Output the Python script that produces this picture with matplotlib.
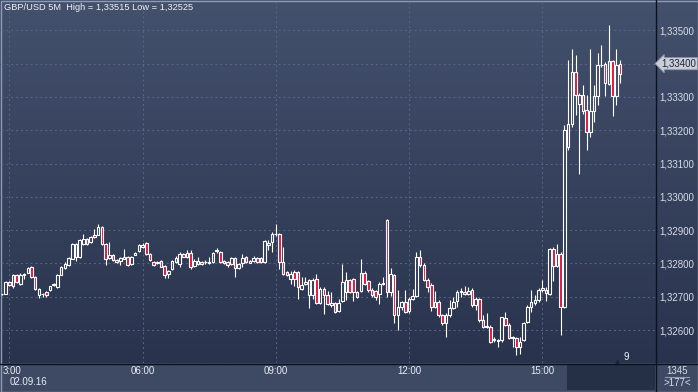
import numpy as np
import matplotlib.pyplot as plt
from matplotlib import transforms
from matplotlib.patches import Rectangle
from matplotlib.lines import Line2D

plt.rcParams["font.family"] = ["Liberation Sans", "DejaVu Sans"]

# 5-minute GBP/USD bars, first bar two steps before 03:00
first_bar = -2
opens = [
    1.32707, 1.32709, 1.32744, 1.32732, 1.32766, 1.32739, 1.32766, 1.32772, 1.32789, 1.32759,
    1.32706, 1.32707, 1.32714, 1.32719, 1.32735, 1.32729, 1.32766, 1.32786, 1.32796, 1.32814,
    1.32818, 1.32820, 1.32859, 1.32872, 1.32864, 1.32886, 1.32886, 1.32909, 1.32859, 1.32816,
    1.32826, 1.32809, 1.32806, 1.32814, 1.32819, 1.32799, 1.32826, 1.32836, 1.32849, 1.32862,
    1.32828, 1.32805, 1.32800, 1.32807, 1.32792, 1.32767, 1.32782, 1.32803, 1.32797, 1.32828,
    1.32818, 1.32830, 1.32792, 1.32798, 1.32805, 1.32803, 1.32800, 1.32803, 1.32838, 1.32835,
    1.32800, 1.32805, 1.32797, 1.32817, 1.32785, 1.32800, 1.32820, 1.32802, 1.32807, 1.32817,
    1.32803, 1.32803, 1.32855, 1.32865, 1.32887, 1.32888, 1.32803, 1.32773, 1.32753, 1.32773,
    1.32773, 1.32723, 1.32738, 1.32706, 1.32706, 1.32753, 1.32680, 1.32723, 1.32706, 1.32676,
    1.32680, 1.32658, 1.32686, 1.32713, 1.32750, 1.32753, 1.32715, 1.32716, 1.32770, 1.32746,
    1.32721, 1.32716, 1.32708, 1.32738, 1.32930, 1.32713, 1.32765, 1.32645, 1.32668, 1.32685,
    1.32658, 1.32693, 1.32703, 1.32820, 1.32795, 1.32751, 1.32736, 1.32670, 1.32685, 1.32645,
    1.32620, 1.32645, 1.32666, 1.32688, 1.32713, 1.32715, 1.32708, 1.32721, 1.32675, 1.32693,
    1.32630, 1.32610, 1.32610, 1.32570, 1.32570, 1.32570, 1.32636, 1.32615, 1.32580, 1.32575,
    1.32548, 1.32571, 1.32625, 1.32668, 1.32680, 1.32690, 1.32721, 1.32721, 1.32708, 1.32843,
    1.32793, 1.32828, 1.32670, 1.33150, 1.33220, 1.33375, 1.33280, 1.33305, 1.33260, 1.33195,
    1.33257, 1.33303, 1.33395, 1.33400, 1.33340, 1.33408, 1.33303, 1.33400,
]
highs = [
    1.32709, 1.32747, 1.32746, 1.32768, 1.32768, 1.32772, 1.32772, 1.32789, 1.32792, 1.32761,
    1.32727, 1.32710, 1.32716, 1.32733, 1.32740, 1.32768, 1.32791, 1.32803, 1.32820, 1.32861,
    1.32862, 1.32874, 1.32889, 1.32876, 1.32882, 1.32902, 1.32919, 1.32912, 1.32861, 1.32864,
    1.32829, 1.32812, 1.32819, 1.32844, 1.32822, 1.32822, 1.32834, 1.32859, 1.32862, 1.32865,
    1.32830, 1.32808, 1.32808, 1.32810, 1.32794, 1.32780, 1.32810, 1.32822, 1.32835, 1.32832,
    1.32840, 1.32840, 1.32812, 1.32820, 1.32808, 1.32810, 1.32820, 1.32833, 1.32845, 1.32838,
    1.32810, 1.32808, 1.32818, 1.32820, 1.32800, 1.32827, 1.32823, 1.32810, 1.32823, 1.32820,
    1.32818, 1.32870, 1.32870, 1.32895, 1.32918, 1.32890, 1.32850, 1.32776, 1.32778, 1.32780,
    1.32776, 1.32758, 1.32760, 1.32753, 1.32756, 1.32768, 1.32730, 1.32728, 1.32718, 1.32713,
    1.32683, 1.32693, 1.32798, 1.32775, 1.32753, 1.32755, 1.32718, 1.32813, 1.32776, 1.32750,
    1.32725, 1.32720, 1.32745, 1.32760, 1.32932, 1.32785, 1.32768, 1.32721, 1.32688, 1.32721,
    1.32700, 1.32723, 1.32835, 1.32840, 1.32800, 1.32755, 1.32740, 1.32718, 1.32690, 1.32648,
    1.32650, 1.32690, 1.32700, 1.32720, 1.32725, 1.32733, 1.32730, 1.32725, 1.32698, 1.32695,
    1.32645, 1.32651, 1.32615, 1.32580, 1.32573, 1.32640, 1.32653, 1.32620, 1.32583, 1.32578,
    1.32578, 1.32625, 1.32675, 1.32721, 1.32705, 1.32725, 1.32750, 1.32730, 1.32846, 1.32850,
    1.32858, 1.32835, 1.33215, 1.33410, 1.33445, 1.33425, 1.33312, 1.33335, 1.33305, 1.33445,
    1.33335, 1.33433, 1.33455, 1.33405, 1.33515, 1.33412, 1.33445, 1.33410,
]
lows = [
    1.32705, 1.32708, 1.32733, 1.32726, 1.32740, 1.32734, 1.32754, 1.32770, 1.32757, 1.32719,
    1.32696, 1.32700, 1.32700, 1.32716, 1.32733, 1.32727, 1.32764, 1.32784, 1.32793, 1.32812,
    1.32806, 1.32815, 1.32854, 1.32856, 1.32860, 1.32877, 1.32884, 1.32856, 1.32796, 1.32814,
    1.32806, 1.32800, 1.32796, 1.32812, 1.32792, 1.32796, 1.32824, 1.32834, 1.32846, 1.32826,
    1.32808, 1.32792, 1.32798, 1.32788, 1.32755, 1.32755, 1.32780, 1.32800, 1.32790, 1.32818,
    1.32815, 1.32782, 1.32790, 1.32795, 1.32795, 1.32798, 1.32798, 1.32800, 1.32832, 1.32800,
    1.32798, 1.32788, 1.32795, 1.32760, 1.32782, 1.32790, 1.32802, 1.32800, 1.32805, 1.32800,
    1.32800, 1.32800, 1.32840, 1.32833, 1.32882, 1.32783, 1.32765, 1.32763, 1.32738, 1.32733,
    1.32693, 1.32720, 1.32735, 1.32665, 1.32693, 1.32678, 1.32677, 1.32648, 1.32675, 1.32670,
    1.32650, 1.32655, 1.32683, 1.32690, 1.32710, 1.32688, 1.32695, 1.32713, 1.32735, 1.32715,
    1.32700, 1.32690, 1.32678, 1.32735, 1.32700, 1.32703, 1.32620, 1.32600, 1.32660, 1.32650,
    1.32650, 1.32690, 1.32700, 1.32790, 1.32748, 1.32713, 1.32658, 1.32665, 1.32640, 1.32615,
    1.32580, 1.32640, 1.32662, 1.32668, 1.32700, 1.32705, 1.32705, 1.32670, 1.32660, 1.32625,
    1.32605, 1.32605, 1.32560, 1.32565, 1.32548, 1.32565, 1.32612, 1.32572, 1.32548, 1.32525,
    1.32528, 1.32568, 1.32620, 1.32653, 1.32675, 1.32685, 1.32715, 1.32686, 1.32705, 1.32748,
    1.32790, 1.32585, 1.32665, 1.33140, 1.33210, 1.33245, 1.33070, 1.33250, 1.33140, 1.33180,
    1.33225, 1.33275, 1.33390, 1.33303, 1.33335, 1.33243, 1.33275, 1.33343,
]
closes = [
    1.32707, 1.32744, 1.32736, 1.32766, 1.32744, 1.32766, 1.32767, 1.32786, 1.32759, 1.32724,
    1.32724, 1.32708, 1.32706, 1.32731, 1.32737, 1.32766, 1.32789, 1.32799, 1.32816, 1.32859,
    1.32858, 1.32870, 1.32872, 1.32859, 1.32879, 1.32879, 1.32909, 1.32859, 1.32814, 1.32826,
    1.32809, 1.32804, 1.32816, 1.32819, 1.32794, 1.32819, 1.32831, 1.32854, 1.32856, 1.32828,
    1.32810, 1.32795, 1.32805, 1.32790, 1.32765, 1.32778, 1.32807, 1.32815, 1.32828, 1.32820,
    1.32830, 1.32790, 1.32808, 1.32808, 1.32797, 1.32804, 1.32805, 1.32830, 1.32840, 1.32803,
    1.32807, 1.32795, 1.32815, 1.32787, 1.32797, 1.32817, 1.32805, 1.32807, 1.32815, 1.32805,
    1.32815, 1.32867, 1.32860, 1.32888, 1.32888, 1.32803, 1.32768, 1.32766, 1.32768, 1.32753,
    1.32728, 1.32736, 1.32745, 1.32750, 1.32750, 1.32680, 1.32723, 1.32706, 1.32678, 1.32680,
    1.32653, 1.32680, 1.32745, 1.32750, 1.32713, 1.32713, 1.32700, 1.32770, 1.32738, 1.32720,
    1.32706, 1.32698, 1.32738, 1.32742, 1.32713, 1.32768, 1.32645, 1.32668, 1.32683, 1.32655,
    1.32693, 1.32703, 1.32820, 1.32795, 1.32751, 1.32728, 1.32668, 1.32685, 1.32645, 1.32620,
    1.32645, 1.32666, 1.32685, 1.32715, 1.32716, 1.32708, 1.32716, 1.32675, 1.32693, 1.32630,
    1.32608, 1.32612, 1.32563, 1.32572, 1.32566, 1.32638, 1.32615, 1.32576, 1.32576, 1.32548,
    1.32565, 1.32621, 1.32670, 1.32683, 1.32690, 1.32721, 1.32725, 1.32710, 1.32843, 1.32793,
    1.32828, 1.32670, 1.33200, 1.33220, 1.33375, 1.33305, 1.33305, 1.33257, 1.33195, 1.33257,
    1.33303, 1.33395, 1.33397, 1.33343, 1.33408, 1.33303, 1.33395, 1.33370,
]

price_ticks = [1.326, 1.327, 1.328, 1.329, 1.330, 1.331, 1.332, 1.333, 1.334, 1.335]
price_labels = ["1,32600", "1,32700", "1,32800", "1,32900", "1,33000",
                "1,33100", "1,33200", "1,33300", "1,33400", "1,33500"]
time_ticks = [0, 36, 72, 108, 144]
time_labels = ["", "06:00", "09:00", "12:00", "15:00"]
last_price = 1.334
last_label = "1,33400"
title = "GBP/USD 5M  High = 1,33515 Low = 1,32525"

W, H = 698, 392
fig = plt.figure(figsize=(W / 100, H / 100), dpi=100)

# background panels drawn in pixel coordinates
bg = fig.add_axes([0, 0, 1, 1])
bg.set_xlim(0, W)
bg.set_ylim(H, 0)
bg.axis("off")
top_col = np.array([68, 81, 108]) / 255
bot_col = np.array([41, 51, 78]) / 255
t = np.linspace(0, 1, 363)[:, None, None]
grad = top_col * (1 - t) + bot_col * t
bg.imshow(grad, extent=(0, W, 363, 0), aspect="auto", interpolation="bilinear")
bg.add_patch(Rectangle((0, 363), W, 29, color="#3e4a63", lw=0))
bg.add_patch(Rectangle((567, 364), 88, 25.5, color="#252f46", lw=0))
bg.add_line(Line2D([0, W], [363.5, 363.5], color="#0c1120", lw=1.0))
bg.add_line(Line2D([655.5, 655.5], [0, H], color="#0c1120", lw=1.0))
bg.add_patch(Rectangle((0.5, 0.5), W - 1, H - 1, fill=False, ec="#8f9cb3", lw=1.0))

# chart axes
ax = fig.add_axes([1 / W, 29 / H, 654.5 / W, 363 / H])
ax.set_facecolor("none")
for s in ax.spines.values():
    s.set_visible(False)

x = np.arange(first_bar, first_bar + len(opens))
o = np.array(opens)
h = np.array(highs)
l = np.array(lows)
c = np.array(closes)
up = c >= o
b_lo = np.minimum(o, c)
b_hi = np.maximum(o, c)

ax.vlines(x, b_hi, h, color="white", lw=0.8, zorder=3)
ax.vlines(x, l, b_lo, color="white", lw=0.8, zorder=3)
ax.bar(x[up], (b_hi - b_lo)[up], bottom=b_lo[up], width=0.7,
       facecolor="none", edgecolor="white", linewidth=0.8, zorder=4)
ax.bar(x[~up], (b_hi - b_lo)[~up], bottom=b_lo[~up], width=0.7,
       facecolor="#e0143c", edgecolor="white", linewidth=0.8, zorder=4)

ax.set_xlim(-2.24, 174.6)
ax.set_ylim(1.32501, 1.33591)

# the current price is shown in its own marker instead of a plain tick label
ax.set_yticks(price_ticks)
ax.set_yticklabels(["" if s == last_label else s for s in price_labels])
ax.yaxis.tick_right()
ax.tick_params(axis="y", length=0, pad=2.6, labelsize=7, labelcolor="#d6dce6")
ax.set_xticks(time_ticks)
ax.set_xticklabels(time_labels)
ax.tick_params(axis="x", length=0, pad=2.2, labelsize=7, labelcolor="#e8edf5")
ax.grid(True, color="#56658a", linestyle=(0, (2, 3)), linewidth=0.7)
ax.set_axisbelow(True)

# current price marker on the right scale
tr = transforms.blended_transform_factory(ax.transAxes, ax.transData)
ax.text(1 + 6 / 654.5, last_price, last_label, transform=tr, ha="left", va="center",
        fontsize=7, color="#1e2638", zorder=10,
        bbox=dict(boxstyle="larrow,pad=0.12", fc="#c8cdd6", ec="#8790a2", lw=0.6))

# texts in pixel coordinates
def px_text(px, py, s, size=7, **kw):
    fig.text(px / W, 1 - py / H, s, fontsize=size, **kw)

px_text(4, 7.5, title, size=6.7, color="#eef2f8", ha="left", va="center")
px_text(3, 371.3, "3:00", color="#e8edf5", ha="left", va="center")
px_text(10, 382.3, "02.09.16", color="#e8edf5", ha="left", va="center")
px_text(626.5, 357, "9", color="#eef2f8", ha="center", va="center")
px_text(677, 370.5, "1345", color="#d6dce6", ha="center", va="center")
px_text(677, 383.3, ">177<", color="#d6dce6", ha="center", va="center")
bg.add_line(Line2D([665, 689], [377, 377], color="#8f9cb3", lw=0.8))
bg.plot([616.5], [360.5], marker="^", ms=3.5, color="#1a2236", mec="none")

fig.savefig("out.png", dpi=100)
